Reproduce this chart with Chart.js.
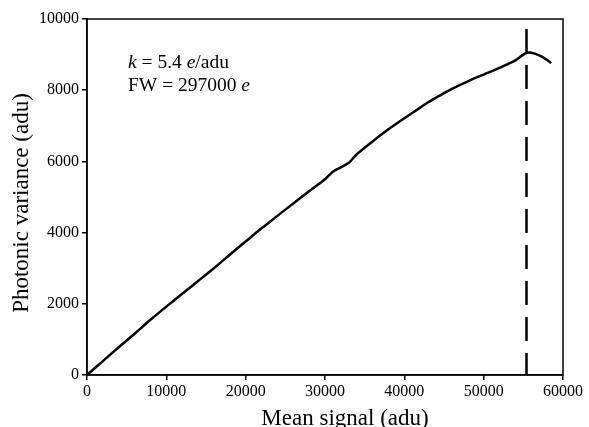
<!DOCTYPE html>
<html>
<head>
<meta charset="utf-8">
<script src="https://cdn.jsdelivr.net/npm/chart.js@4.4.0/dist/chart.umd.min.js"></script>
<style>
  html, body { margin: 0; padding: 0; background: #fff; }
  #wrap { width: 589px; height: 427px; }
</style>
</head>
<body>
<div id="wrap"><canvas id="ptc"></canvas></div>
<script>
// mean signal (adu) and photonic variance (adu)
var meanSignal = [0, 2000, 4000, 6000, 8000, 10000, 12000, 14000, 16000, 18000, 20000,
    22000, 24000, 26000, 28000, 30000, 31000, 32000, 33000, 34000, 36000, 38000,
    40000, 42000, 43000, 44000, 45000, 46000, 48000, 50000, 52000, 54000, 55000, 55500,
    56000, 57000, 58000, 58500];
var variance = [0, 390, 780, 1160, 1550, 1920, 2280, 2640, 3000, 3380, 3750,
    4120, 4470, 4820, 5160, 5500, 5710, 5830, 5960, 6200, 6560, 6900,
    7210, 7510, 7660, 7790, 7920, 8040, 8250, 8440, 8630, 8840, 9000, 9050,
    9050, 8980, 8850, 8760];

// full-well marker
var fullWellX = [55400, 55400];
var fullWellY = [9720, 0];

var xTicks = [0, 10000, 20000, 30000, 40000, 50000, 60000];
var yTicks = [0, 2000, 4000, 6000, 8000, 10000];

var xTitle = 'Mean signal (adu)';
var yTitle = 'Photonic variance (adu)';

var curvePts = [];
for (var i = 0; i < meanSignal.length; i++) {
    curvePts.push({x: meanSignal[i], y: variance[i]});
}
var fwPts = [];
for (var j = 0; j < fullWellX.length; j++) {
    fwPts.push({x: fullWellX[j], y: fullWellY[j]});
}

var serif = "'Liberation Serif', 'Times New Roman', serif";

// box around the plot area, axis titles and the k / FW note
var framePlugin = {
    id: 'frame',
    afterDraw: function(chart) {
        var ctx = chart.ctx;
        var a = chart.chartArea;
        ctx.save();
        ctx.strokeStyle = '#000';
        ctx.lineWidth = 1.5;
        ctx.strokeRect(a.left, a.top, a.right - a.left, a.bottom - a.top);

        ctx.fillStyle = '#000';
        ctx.font = '23px ' + serif;
        ctx.textAlign = 'center';
        ctx.textBaseline = 'alphabetic';
        ctx.fillText(xTitle, 345, 425);

        ctx.save();
        ctx.translate(22, 203);
        ctx.rotate(-Math.PI / 2);
        ctx.textBaseline = 'middle';
        ctx.fillText(yTitle, 0, 0);
        ctx.restore();

        ctx.textAlign = 'left';
        ctx.textBaseline = 'alphabetic';
        var x0 = 128;
        var parts1 = [['k', true], [' = 5.4 ', false], ['e', true], ['/adu', false]];
        var parts2 = [['FW = 297000 ', false], ['e', true]];
        function line(parts, y) {
            var x = x0;
            parts.forEach(function(p) {
                ctx.font = (p[1] ? 'italic ' : '') + '19.5px ' + serif;
                ctx.fillText(p[0], x, y);
                x += ctx.measureText(p[0]).width;
            });
        }
        line(parts1, 68);
        line(parts2, 91);
        ctx.restore();
    }
};

var ctx = document.getElementById('ptc').getContext('2d');

var myChart = new Chart(ctx, {
    type: 'scatter',
    data: {
        datasets: [{
            data: curvePts,
            showLine: true,
            borderColor: '#000',
            borderWidth: 2.5,
            pointRadius: 0,
            tension: 0.2
        }, {
            data: fwPts,
            showLine: true,
            borderColor: '#000',
            borderWidth: 2.5,
            borderDash: [24, 12],
            pointRadius: 0
        }]
    },
    options: {
        responsive: true,
        maintainAspectRatio: false,
        animation: false,
        layout: { padding: { top: 19, right: 26, left: 0, bottom: 0 } },
        plugins: {
            legend: { display: false },
            tooltip: { enabled: false }
        },
        scales: {
            x: {
                type: 'linear',
                min: 0,
                max: 60000,
                afterBuildTicks: function(scale) {
                    scale.ticks = xTicks.map(function(v) { return {value: v}; });
                },
                afterFit: function(scale) { scale.height = 52; },
                grid: { drawOnChartArea: false, tickLength: 5, color: '#000', lineWidth: 1.5 },
                border: { color: '#000', width: 1.5 },
                ticks: {
                    color: '#000',
                    padding: 2,
                    maxRotation: 0,
                    font: { family: serif, size: 16 },
                    callback: function(v) { return String(v); }
                }
            },
            y: {
                min: 0,
                max: 10000,
                afterBuildTicks: function(scale) {
                    scale.ticks = yTicks.map(function(v) { return {value: v}; });
                },
                afterFit: function(scale) { scale.width = 87; },
                grid: { drawOnChartArea: false, tickLength: 5, color: '#000', lineWidth: 1.5 },
                border: { color: '#000', width: 1.5 },
                ticks: {
                    color: '#000',
                    padding: 3,
                    font: { family: serif, size: 16 },
                    callback: function(v) { return String(v); }
                }
            }
        }
    },
    plugins: [framePlugin]
});
</script>
</body>
</html>
